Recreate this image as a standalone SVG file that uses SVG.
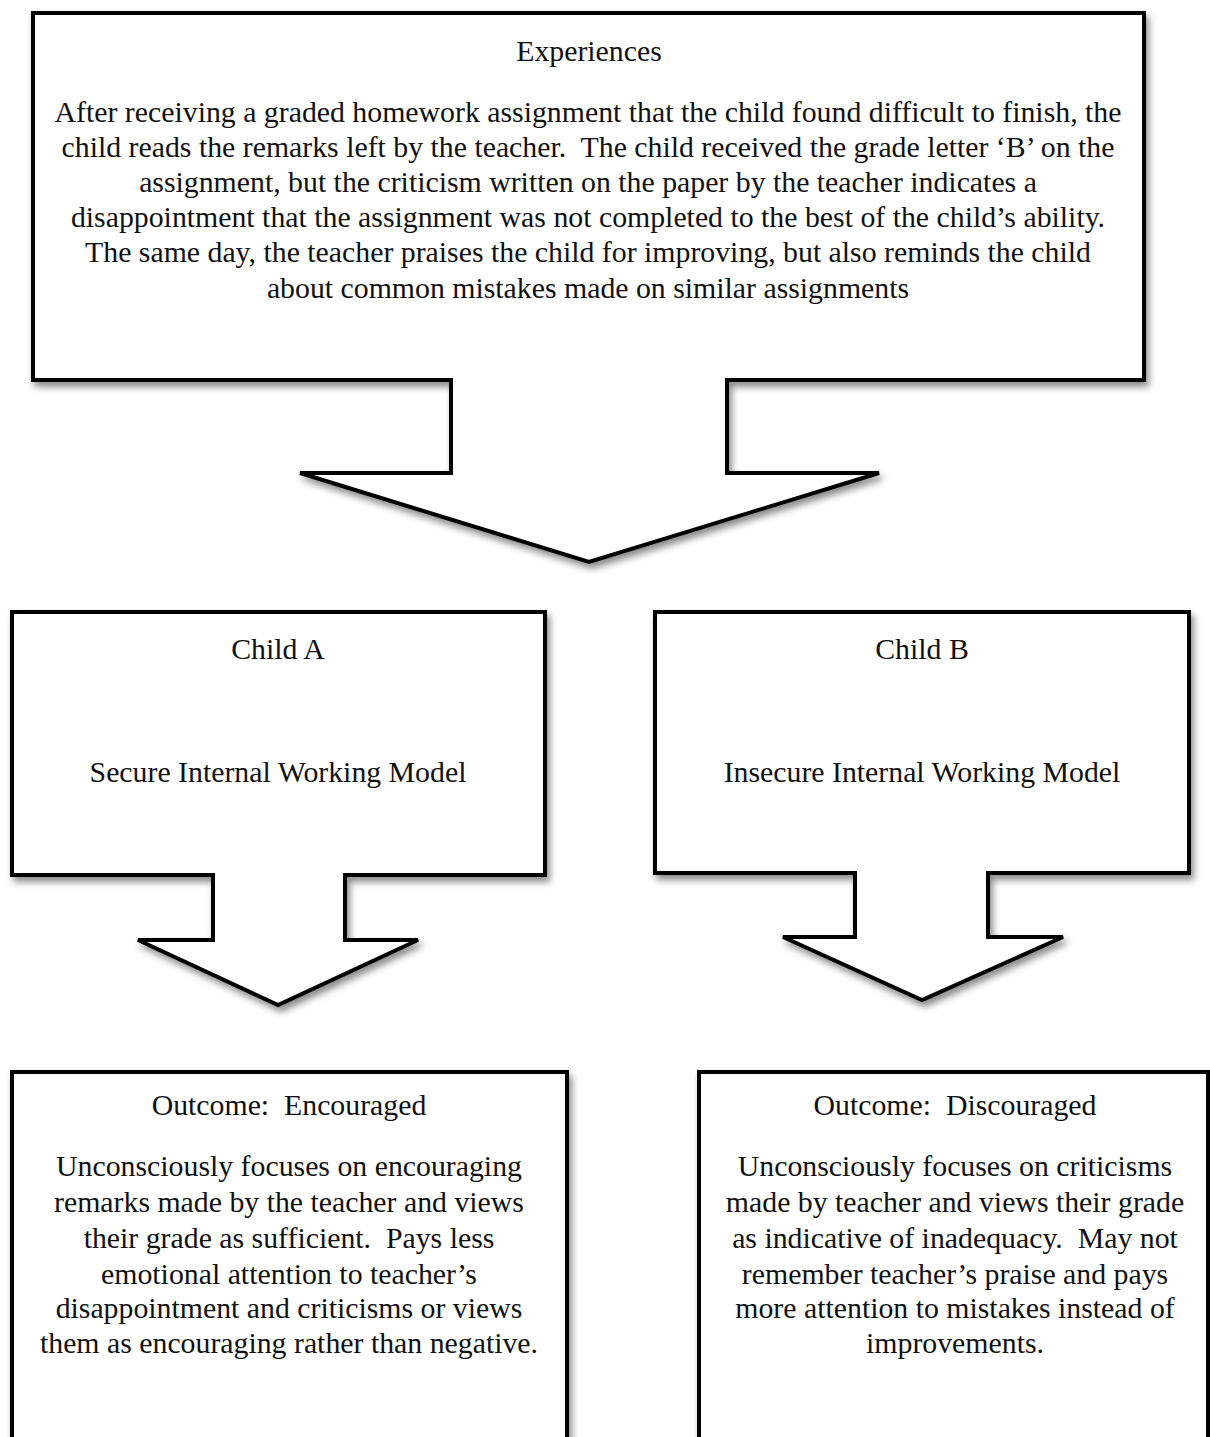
<svg xmlns="http://www.w3.org/2000/svg" width="1210" height="1437" viewBox="0 0 1210 1437">
<style>
.shape{fill:#fff;stroke:#000;stroke-width:4;stroke-linejoin:miter;filter:url(#sh)}
text{font-family:"Liberation Serif","Times New Roman",serif;font-size:29.8px;fill:#111;text-anchor:middle;white-space:pre}
</style>
<defs>
<filter id="sh" x="-10%" y="-10%" width="120%" height="120%">
<feDropShadow dx="3" dy="5" stdDeviation="3.5" flood-color="#000" flood-opacity="0.45"/>
</filter>
</defs>
<rect width="1210" height="1437" fill="#fff"/>
<g id="connectors"></g>
<g id="experiences">
<path class="shape" d="M33,13 H1144 V380 H727 V473 H879 L589,562 L300,473 H451 V380 H33 Z"/>
<text x="589" y="61">Experiences</text>
<text x="588" y="122">After receiving a graded homework assignment that the child found difficult to finish, the</text>
<text x="588" y="157" xml:space="preserve">child reads the remarks left by the teacher.  The child received the grade letter ‘B’ on the</text>
<text x="588" y="192">assignment, but the criticism written on the paper by the teacher indicates a</text>
<text x="588" y="227">disappointment that the assignment was not completed to the best of the child’s ability.</text>
<text x="588" y="262">The same day, the teacher praises the child for improving, but also reminds the child</text>
<text x="588" y="298">about common mistakes made on similar assignments</text>
</g>
<g id="childA">
<path class="shape" d="M12,612 H545 V875 H345 V940 H418 L278,1005 L138,940 H213 V875 H12 Z"/>
<text x="278" y="659">Child A</text>
<text x="278" y="782">Secure Internal Working Model</text>
</g>
<g id="childB">
<path class="shape" d="M655,612 H1189 V873 H988 V937 H1063 L922,1000 L783,937 H855 V873 H655 Z"/>
<text x="922" y="659">Child B</text>
<text x="922" y="782">Insecure Internal Working Model</text>
</g>
<g id="outcomeA">
<rect class="shape" x="12" y="1072" width="555" height="400"/>
<text x="289" y="1115" xml:space="preserve">Outcome:  Encouraged</text>
<text x="289" y="1176">Unconsciously focuses on encouraging</text>
<text x="289" y="1212">remarks made by the teacher and views</text>
<text x="289" y="1248" xml:space="preserve">their grade as sufficient.  Pays less</text>
<text x="289" y="1284">emotional attention to teacher’s</text>
<text x="289" y="1318">disappointment and criticisms or views</text>
<text x="289" y="1353">them as encouraging rather than negative.</text>
</g>
<g id="outcomeB">
<rect class="shape" x="699" y="1072" width="509" height="400"/>
<text x="955" y="1115" xml:space="preserve">Outcome:  Discouraged</text>
<text x="955" y="1176">Unconsciously focuses on criticisms</text>
<text x="955" y="1212">made by teacher and views their grade</text>
<text x="955" y="1248" xml:space="preserve">as indicative of inadequacy.  May not</text>
<text x="955" y="1284">remember teacher’s praise and pays</text>
<text x="955" y="1318">more attention to mistakes instead of</text>
<text x="955" y="1353">improvements.</text>
</g>
</svg>
